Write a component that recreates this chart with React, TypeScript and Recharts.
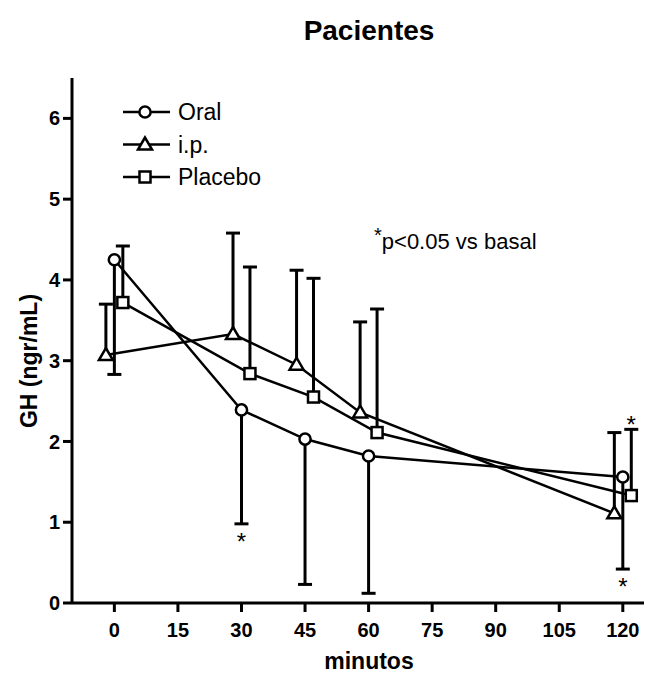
import React from "react";
import { ScatterChart, Scatter, XAxis, YAxis, ErrorBar } from "recharts";

// minutes (small horizontal offsets per group, as in the original plot)
const oralMin = [0, 30, 45, 60, 120];
const oralMean = [4.25, 2.39, 2.03, 1.82, 1.56];
const oralLow = [2.83, 0.98, 0.23, 0.12, 0.42];

const ipMin = [-2, 28, 43, 58, 118];
const ipMean = [3.07, 3.33, 2.95, 2.36, 1.11];
const ipHigh = [3.7, 4.58, 4.12, 3.48, 2.11];

const placeboMin = [2, 32, 47, 62, 122];
const placeboMean = [3.72, 2.84, 2.55, 2.11, 1.33];
const placeboHigh = [4.42, 4.16, 4.02, 3.64, 2.15];

// significance marks: minute, value at end of error bar, side
const starMin = [30, 120, 122];
const starAt = [0.98, 0.42, 2.15];
const starSide = ["below", "below", "above"];

const xTicks = [0, 15, 30, 45, 60, 75, 90, 105, 120];
const yTicks = [0, 1, 2, 3, 4, 5, 6];

const oralData = oralMin.map((x, i) => ({ x, y: oralMean[i], err: [oralMean[i] - oralLow[i], 0] }));
const ipData = ipMin.map((x, i) => ({ x, y: ipMean[i], err: [0, ipHigh[i] - ipMean[i]] }));
const placeboData = placeboMin.map((x, i) => ({ x, y: placeboMean[i], err: [0, placeboHigh[i] - placeboMean[i]] }));
// cap ends of the one-sided error bars
const capData = [
  ...oralMin.map((x, i) => ({ x, y: oralLow[i] })),
  ...ipMin.map((x, i) => ({ x, y: ipHigh[i] })),
  ...placeboMin.map((x, i) => ({ x, y: placeboHigh[i] })),
];
const starData = starMin.map((x, i) => ({ x, y: starAt[i], side: starSide[i] }));

const FONT = "'Liberation Sans', Arial, Helvetica, sans-serif";

const Marker = ({ kind, cx, cy }: { kind: string; cx: number; cy: number }) => {
  if (kind === "circle")
    return <circle cx={cx} cy={cy} r={5.6} fill="#fff" stroke="#000" strokeWidth={2.5} />;
  if (kind === "triangle")
    return (
      <polygon
        points={`${cx},${cy - 7} ${cx - 7},${cy + 5} ${cx + 7},${cy + 5}`}
        fill="#fff"
        stroke="#000"
        strokeWidth={2.5}
      />
    );
  return <rect x={cx - 5.5} y={cy - 5.5} width={11} height={11} fill="#fff" stroke="#000" strokeWidth={2.5} />;
};

const legendItems = [
  { name: "Oral", kind: "circle" },
  { name: "i.p.", kind: "triangle" },
  { name: "Placebo", kind: "square" },
];

const CapShape = (p: any) => (
  <line x1={p.cx - 7} x2={p.cx + 7} y1={p.cy} y2={p.cy} stroke="#000" strokeWidth={3} />
);

const StarShape = (p: any) => {
  const below = p.payload.side === "below";
  return (
    <text x={p.cx} y={below ? p.cy + 26 : p.cy + 4} textAnchor="middle" fontSize={24} fontFamily={FONT} fill="#000">
      *
    </text>
  );
};

const tickStyle = { fontSize: 20, fontWeight: "bold", fill: "#000", fontFamily: FONT };

export default function App() {
  return (
    <div style={{ position: "absolute", left: 0, top: 0, width: 658, height: 673, background: "#fff" }}>
      <ScatterChart width={658} height={673} margin={{ top: 78, right: 14, bottom: 0, left: 0 }}>
        <XAxis
          type="number"
          dataKey="x"
          domain={[-10, 125]}
          ticks={xTicks}
          interval={0}
          height={70}
          axisLine={{ stroke: "#000", strokeWidth: 3 }}
          tickLine={{ stroke: "#000", strokeWidth: 3 }}
          tickSize={9}
          tickMargin={11}
          tick={tickStyle}
        />
        <YAxis
          type="number"
          dataKey="y"
          domain={[0, 6.5]}
          ticks={yTicks}
          interval={0}
          width={72}
          axisLine={{ stroke: "#000", strokeWidth: 3 }}
          tickLine={{ stroke: "#000", strokeWidth: 3 }}
          tickSize={9}
          tickMargin={3}
          tick={tickStyle}
        />
        <Scatter name="caps" data={capData} shape={CapShape} isAnimationActive={false} />
        <Scatter
          name="Oral"
          data={oralData}
          line={{ stroke: "#000", strokeWidth: 2.5 }}
          shape={(p: any) => <Marker kind="circle" cx={p.cx} cy={p.cy} />}
          isAnimationActive={false}
        >
          <ErrorBar dataKey="err" direction="y" width={0} stroke="#000" strokeWidth={3} />
        </Scatter>
        <Scatter
          name="i.p."
          data={ipData}
          line={{ stroke: "#000", strokeWidth: 2.5 }}
          shape={(p: any) => <Marker kind="triangle" cx={p.cx} cy={p.cy} />}
          isAnimationActive={false}
        >
          <ErrorBar dataKey="err" direction="y" width={0} stroke="#000" strokeWidth={3} />
        </Scatter>
        <Scatter
          name="Placebo"
          data={placeboData}
          line={{ stroke: "#000", strokeWidth: 2.5 }}
          shape={(p: any) => <Marker kind="square" cx={p.cx} cy={p.cy} />}
          isAnimationActive={false}
        >
          <ErrorBar dataKey="err" direction="y" width={0} stroke="#000" strokeWidth={3} />
        </Scatter>
        <Scatter name="stars" data={starData} shape={StarShape} isAnimationActive={false} />

        <g transform="translate(123,97)">
          {legendItems.map((it, i) => {
            const cy = 15 + i * 32.5;
            return (
              <g key={it.name}>
                <line x1={0} x2={47} y1={cy} y2={cy} stroke="#000" strokeWidth={2.5} />
                <Marker kind={it.kind} cx={22} cy={cy} />
                <text x={55} y={cy + 8} fontSize={23} fontFamily={FONT} fill="#000">
                  {it.name}
                </text>
              </g>
            );
          })}
        </g>
        <text x={369} y={40} textAnchor="middle" fontSize={28} fontWeight="bold" fontFamily={FONT} fill="#000">
          Pacientes
        </text>
        <text x={374} y={249} fontSize={22} fontFamily={FONT} fill="#000">
          <tspan fontSize={20} dy={-7}>*</tspan>
          <tspan dy={7}>p&lt;0.05 vs basal</tspan>
        </text>
        <text x={369} y={669} textAnchor="middle" fontSize={23} fontWeight="bold" fontFamily={FONT} fill="#000">
          minutos
        </text>
        <text
          transform="translate(37,361) rotate(-90)"
          textAnchor="middle"
          fontSize={23}
          fontWeight="bold"
          fontFamily={FONT}
          fill="#000"
        >
          GH (ngr/mL)
        </text>
      </ScatterChart>
    </div>
  );
}
